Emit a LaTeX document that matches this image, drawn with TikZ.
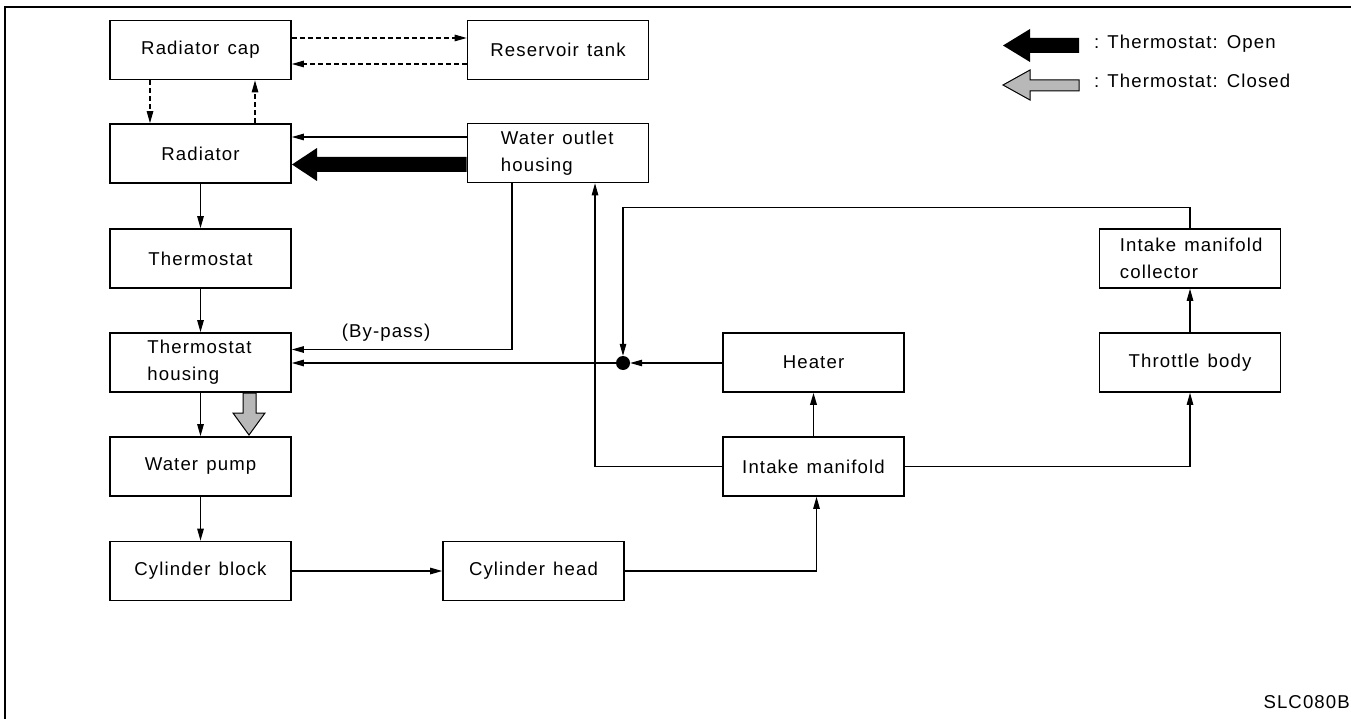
\documentclass[tikz,border=0pt]{standalone}
\usepackage{fontspec}
\setmainfont{Liberation Sans}[LetterSpace=6.0,WordSpace=1.3]
\usetikzlibrary{arrows.meta,calc}
\begin{document}
\begin{tikzpicture}[x=1pt,y=-1pt,
  font=\fontsize{18.6pt}{27pt}\selectfont,
  box/.style={draw, line width=1.6pt, minimum width=181pt, minimum height=59pt, inner sep=0pt},
  txt/.style={inner sep=0pt, align=left},
  conn/.style={line width=1.1pt, -{Triangle[length=12pt,width=6.5pt]}},
  dconn/.style={conn, dash pattern=on 5pt off 3pt},
  bigarrow/.style={line width=1pt, line join=miter}]
\useasboundingbox (0,0) rectangle (1351,719);
\draw[line width=1.2pt] (5,719) -- (5,7) -- (1351,7);

% boxes
\node[box] (cap) at (200.5,50) {Radiator cap};
\node[box] (res) at (558,50) {Reservoir tank};
\node[box] (rad) at (200.5,153.5) {Radiator};
\node[box] (wo) at (558,153) {};
\node[txt, anchor=west] (woT) at ($(wo.west)+(34,0)$) {Water outlet\\housing};
\node[box] (th) at (200.5,258.5) {Thermostat};
\node[box] (thh) at (200.5,362.5) {};
\node[txt, anchor=west] (thhT) at ($(thh.west)+(38,0)$) {Thermostat\\housing};
\node[box] (wp) at (200.5,466.5) {Water pump};
\node[box] (cb) at (200.5,571) {Cylinder block};
\node[box] (ch) at (533.5,571) {Cylinder head};
\node[box] (im) at (813.5,466.5) {Intake manifold};
\node[box] (ht) at (813.5,362.5) {Heater};
\node[box] (tb) at (1190,362.5) {Throttle body};
\node[box] (col) at (1190,258.5) {};
\node[txt, anchor=west] (colT) at ($(col.west)+(21,0)$) {Intake manifold\\collector};
\node[circle, fill, inner sep=0pt, minimum size=14pt] (dot) at (623,363) {};

% dashed connectors
\draw[dconn] ($(cap.east)+(0,-12)$) -- ($(res.west)+(0,-12)$);
\draw[dconn] ($(res.west)+(0,14)$) -- ($(cap.east)+(0,14)$);
\draw[dconn] ($(cap.south)+(-50.5,0)$) -- ($(rad.north)+(-50.5,0)$);
\draw[dconn] ($(rad.north)+(54.5,0)$) -- ($(cap.south)+(54.5,0)$);

% solid connectors
\coordinate (woA) at ($(wo.west)+(0,-16)$);
\draw[conn] (woA) -- (rad.east |- woA);
\draw[conn] (rad) -- (th);
\draw[conn] (th) -- (thh);
\draw[conn] (thh) -- (wp);
\draw[conn] (wp) -- (cb);
\draw[conn] (cb) -- (ch);
\draw[conn] (ch.east) -| ($(im.south)+(3,0)$);
\draw[conn, line width=1.8pt] (im) -- (ht);
\draw[conn] (im.west) -| ($(wo.south)+(37,0)$);
\draw[conn] (im.east) -| (tb.south);
\draw[conn] (tb) -- (col);
\draw[conn] (col.north) -- ++(0,-21) -| (dot.north);
\draw[conn] (ht.west |- dot) -- (dot.east);
\draw[conn] (dot.west) -- (thh.east |- dot);
\draw[conn] ($(wo.south)+(-46,0)$) |- ($(thh.east)+(0,-13)$);
\node[inner sep=0pt] (bp) at (386,333) {(By-pass)};

% thermostat open (thick black arrow)
\fill[bigarrow] (wo.west |- 0,157) -- (317,157) -- (317,148) -- (292,164.5) -- (317,181) -- (317,172) -- (wo.west |- 0,172) -- cycle;
% thermostat closed (stippled arrow)
\filldraw[bigarrow, fill=black!28] (243,393) -- (243,413) -- (233,413) -- (249,435) -- (265,413) -- (256,413) -- (256,393) -- cycle;

% legend
\fill[bigarrow] (1079,38) -- (1030,38) -- (1030,29) -- (1003,45.5) -- (1030,62) -- (1030,53) -- (1079,53) -- cycle;
\filldraw[bigarrow, fill=black!28] (1079,80) -- (1030,80) -- (1030,70) -- (1003,85) -- (1030,100) -- (1030,91) -- (1079,91) -- cycle;
\node[txt, anchor=base west] (lgo) at (1094,49) {:\hspace{8pt}Thermostat:\hspace{9pt}Open};
\node[txt, anchor=base west] (lgc) at (1094,88) {:\hspace{8pt}Thermostat:\hspace{9pt}Closed};

\node[txt, anchor=base east] (code) at (1350,708) {SLC080B};
\end{tikzpicture}
\end{document}
